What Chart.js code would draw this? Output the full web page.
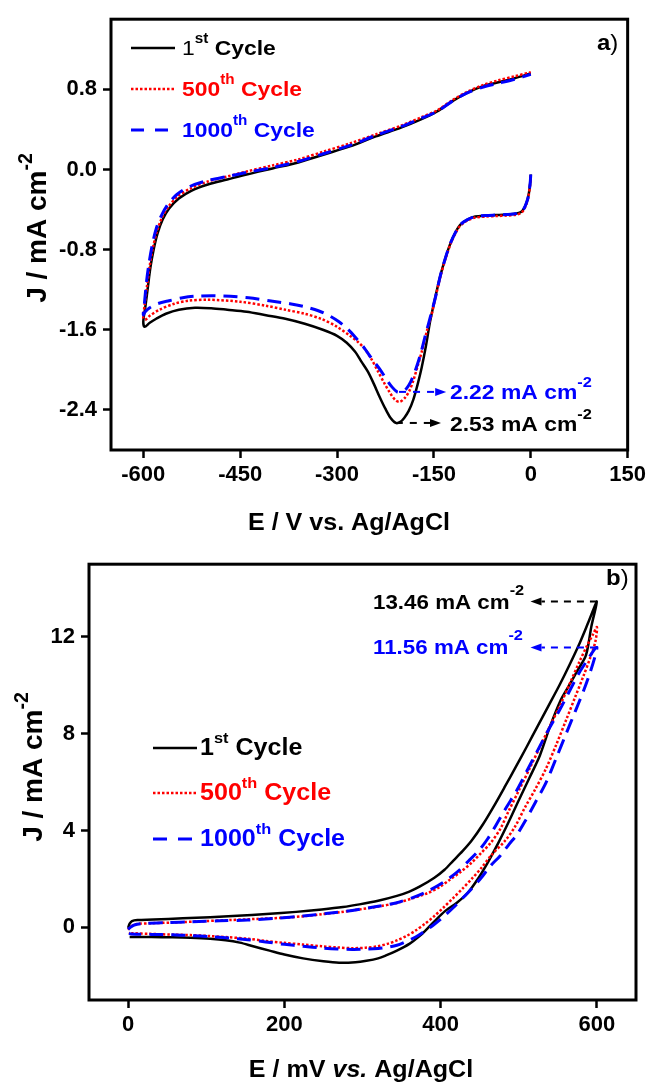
<!DOCTYPE html>
<html lang="en">
<head>
<meta charset="UTF-8">
<title>CV stability cycles</title>
<script src="https://cdn.jsdelivr.net/npm/chart.js"></script>
<style>
  html, body { margin: 0; padding: 0; background: #fff; }
  #chartA { position: absolute; left: 0; top: 0; }
  #chartB { position: absolute; left: 0; top: 545px; }
</style>
</head>
<body>
<canvas id="chartA" width="650" height="545"></canvas>
<canvas id="chartB" width="650" height="539"></canvas>
<script>
const FONT = '"Liberation Sans", Arial, Helvetica, sans-serif';
const SX = 1.09; // the original figure's lettering is slightly wide

// ---------- data, panel a (E / V vs. Ag/AgCl) ----------
const aXTicks = [-600, -450, -300, -150, 0, 150];
const aYTicks = [-2.4, -1.6, -0.8, 0.0, 0.8];

const a1st = [
  [0, -0.05], [-1, -0.14], [-3, -0.24], [-5, -0.30], [-9, -0.37], [-14, -0.42], [-22, -0.44],
  [-38, -0.45], [-54, -0.455], [-70, -0.46], [-86, -0.47], [-98, -0.50], [-109, -0.55],
  [-116, -0.62], [-124, -0.73], [-132, -0.88], [-140, -1.06], [-148, -1.28], [-156, -1.52],
  [-162, -1.75], [-169, -1.98], [-175, -2.14], [-182, -2.30], [-189, -2.41], [-196, -2.48],
  [-202, -2.52], [-209, -2.53], [-217, -2.48], [-225, -2.39], [-234, -2.27], [-243, -2.14],
  [-252, -2.02], [-262, -1.92], [-272, -1.82], [-285, -1.73], [-300, -1.66], [-322, -1.60],
  [-350, -1.54], [-380, -1.49], [-410, -1.455], [-440, -1.42], [-470, -1.40], [-495, -1.385],
  [-520, -1.38], [-545, -1.40], [-565, -1.44], [-580, -1.49], [-590, -1.53], [-598, -1.57],
  [-600, -1.52], [-597, -1.38], [-593, -1.18], [-589, -0.98], [-584, -0.80], [-578, -0.64],
  [-570, -0.50], [-560, -0.39], [-545, -0.29], [-525, -0.21], [-500, -0.15], [-470, -0.10],
  [-440, -0.05], [-400, 0.01], [-360, 0.07], [-320, 0.15], [-280, 0.23], [-240, 0.33],
  [-200, 0.42], [-170, 0.50], [-145, 0.58], [-122, 0.68], [-100, 0.76], [-75, 0.83],
  [-50, 0.87], [-25, 0.91], [0, 0.96]
];
const a500th = [
  [0, -0.06], [-1, -0.15], [-3, -0.25], [-5, -0.31], [-9, -0.38], [-14, -0.43], [-22, -0.45],
  [-38, -0.46], [-54, -0.465], [-70, -0.47], [-86, -0.48], [-98, -0.51], [-109, -0.56],
  [-116, -0.63], [-124, -0.74], [-132, -0.89], [-140, -1.07], [-148, -1.29], [-154, -1.46],
  [-160, -1.59], [-168, -1.80], [-176, -1.98], [-182, -2.11], [-188, -2.21], [-195, -2.28],
  [-203, -2.32], [-210, -2.30], [-218, -2.23], [-227, -2.13], [-237, -2.01], [-247, -1.89],
  [-257, -1.79], [-268, -1.72], [-280, -1.66], [-300, -1.57], [-325, -1.49], [-350, -1.44],
  [-380, -1.40], [-410, -1.36], [-450, -1.32], [-500, -1.30], [-530, -1.31], [-552, -1.34],
  [-575, -1.40], [-590, -1.46], [-597, -1.50],
  [-600, -1.48], [-598, -1.36], [-594, -1.15], [-590, -0.96], [-585, -0.78], [-579, -0.62],
  [-571, -0.48], [-561, -0.37], [-547, -0.27], [-527, -0.19], [-500, -0.12], [-470, -0.07],
  [-440, -0.02], [-400, 0.04], [-360, 0.10], [-320, 0.18], [-280, 0.26], [-240, 0.35],
  [-200, 0.44], [-170, 0.52], [-145, 0.59], [-122, 0.69], [-100, 0.77], [-75, 0.84],
  [-50, 0.89], [-25, 0.93], [0, 0.97]
];
const a1000th = [
  [0, -0.05], [-1, -0.14], [-3, -0.24], [-5, -0.30], [-9, -0.37], [-14, -0.42], [-22, -0.44],
  [-38, -0.45], [-54, -0.455], [-70, -0.46], [-86, -0.47], [-98, -0.50], [-109, -0.55],
  [-116, -0.62], [-124, -0.73], [-132, -0.88], [-140, -1.06], [-147, -1.26], [-155, -1.46],
  [-163, -1.65], [-171, -1.85], [-179, -2.01], [-186, -2.12], [-193, -2.19], [-200, -2.22],
  [-207, -2.22], [-215, -2.17], [-223, -2.10], [-233, -2.00], [-246, -1.89], [-258, -1.78],
  [-271, -1.68], [-284, -1.59], [-297, -1.52], [-312, -1.46], [-329, -1.41], [-350, -1.37],
  [-373, -1.34], [-405, -1.31], [-437, -1.28], [-488, -1.26], [-520, -1.265], [-539, -1.28],
  [-560, -1.31], [-578, -1.34], [-590, -1.38], [-597, -1.42],
  [-600, -1.45], [-598, -1.32], [-595, -1.12], [-591, -0.93], [-586, -0.75], [-580, -0.59],
  [-572, -0.46], [-562, -0.35], [-548, -0.25], [-528, -0.17], [-500, -0.11], [-470, -0.07],
  [-440, -0.03], [-400, 0.02], [-360, 0.08], [-320, 0.16], [-280, 0.24], [-240, 0.34],
  [-200, 0.43], [-170, 0.51], [-145, 0.58], [-122, 0.68], [-100, 0.76], [-75, 0.82],
  [-50, 0.86], [-25, 0.90], [0, 0.95]
];

// ---------- data, panel b (E / mV vs. Ag/AgCl) ----------
const bXTicks = [0, 200, 400, 600];
const bYTicks = [0, 4, 8, 12];

const b1st = [
  [0, -0.02], [2, 0.15], [5, 0.26], [12, 0.30], [33, 0.32], [70, 0.38], [105, 0.42], [140, 0.48],
  [177, 0.55], [215, 0.64], [248, 0.74], [275, 0.84], [296, 0.95], [320, 1.10], [344, 1.30],
  [360, 1.48], [373, 1.68], [392, 2.05], [405, 2.38], [416, 2.75], [428, 3.15], [440, 3.60],
  [454, 4.25], [468, 5.00], [482, 5.80], [496, 6.62], [510, 7.45], [524, 8.30], [538, 9.15],
  [552, 10.00], [565, 10.85], [578, 11.75], [589, 12.60], [600, 13.46],
  [593, 12.45], [586, 11.24], [575, 10.60], [564, 9.97], [553, 9.34], [540, 8.30], [527, 7.10],
  [514, 6.20], [500, 5.25], [487, 4.35], [474, 3.50], [461, 2.72], [448, 2.02], [434, 1.40],
  [420, 1.00], [406, 0.68], [392, 0.25], [383, -0.05], [373, -0.36], [360, -0.68], [344, -0.96],
  [330, -1.16], [320, -1.28], [305, -1.38], [291, -1.44], [270, -1.46], [250, -1.40],
  [224, -1.28], [200, -1.12], [181, -0.96], [160, -0.78], [143, -0.63], [125, -0.53],
  [105, -0.47], [80, -0.43], [57, -0.41], [30, -0.40], [2, -0.40]
];
const b500th = [
  [0, -0.10], [3, 0.02], [9, 0.13], [30, 0.17], [57, 0.20], [93, 0.25], [129, 0.30], [165, 0.35],
  [200, 0.40], [225, 0.46], [248, 0.54], [272, 0.63], [296, 0.74], [320, 0.86], [344, 1.01],
  [364, 1.20], [383, 1.41], [398, 1.65], [411, 1.95], [426, 2.30], [440, 2.68], [452, 3.08],
  [464, 3.49], [476, 4.05], [487, 4.80], [500, 5.65], [514, 6.57], [527, 7.45], [540, 8.32],
  [554, 9.25], [567, 10.20], [578, 11.00], [588, 11.68], [595, 12.10], [600, 12.40],
  [598, 11.80], [591, 11.10], [583, 10.40], [572, 9.50], [561, 8.60], [548, 7.55], [535, 6.57],
  [521, 5.70], [508, 4.96], [495, 4.15], [483, 3.60], [464, 2.95], [452, 2.45], [440, 2.01],
  [428, 1.60], [416, 1.21], [404, 0.83], [392, 0.47], [380, 0.15], [368, -0.13], [356, -0.36],
  [344, -0.54], [332, -0.68], [320, -0.78], [304, -0.84], [287, -0.86], [268, -0.83],
  [248, -0.78], [224, -0.71], [200, -0.64], [176, -0.56], [153, -0.47], [129, -0.41],
  [105, -0.36], [80, -0.32], [57, -0.30], [30, -0.27], [4, -0.24], [1, -0.22]
];
const b1000th = [
  [0, -0.08], [3, 0.00], [8, 0.10], [19, 0.16], [50, 0.20], [81, 0.23], [117, 0.27], [153, 0.30],
  [190, 0.38], [224, 0.47], [256, 0.58], [287, 0.70], [316, 0.85], [344, 1.02], [366, 1.25],
  [385, 1.52], [403, 1.85], [421, 2.28], [436, 2.75], [450, 3.22], [460, 3.65], [471, 4.23],
  [484, 4.95], [498, 5.69], [511, 6.50], [524, 7.30], [537, 8.10], [551, 8.90], [564, 9.70],
  [577, 10.50], [588, 11.05], [598, 11.53], [600, 11.56],
  [598, 11.24], [591, 10.50], [583, 9.78], [572, 8.90], [561, 8.03], [548, 7.00], [535, 5.99],
  [521, 5.15], [508, 4.38], [497, 3.80], [488, 3.45], [476, 2.95], [464, 2.55], [452, 2.05],
  [440, 1.61], [428, 1.20], [416, 0.81], [404, 0.45], [392, 0.13], [380, -0.15], [368, -0.40],
  [356, -0.58], [344, -0.74], [332, -0.82], [320, -0.87], [304, -0.90], [287, -0.91],
  [268, -0.89], [248, -0.85], [224, -0.78], [200, -0.70], [176, -0.60], [153, -0.51],
  [129, -0.44], [105, -0.38], [80, -0.34], [57, -0.31], [30, -0.29], [4, -0.27], [1, -0.25]
];

// labels
const cycleNum = ['1', '500', '1000'];
const cycleSup = ['st', 'th', 'th'];
const aPeakText = ['2.53', '2.22'];     // 1st, 1000th
const aPeakX = [-209, -204];
const aPeakY = [-2.53, -2.22];
const bPeakText = ['13.46', '11.56'];
const bPeakX = [600, 600];
const bPeakY = [13.46, 11.56];

// styles
const colors = ['#000000', '#ff0000', '#0000ff'];
const dashes = [[], [2.5, 2], [14, 8]];
const widths = [2.5, 2.5, 3];

function setFont(ctx, p) {
  ctx.font = (p.italic ? 'italic ' : '') + (p.weight || 'bold') + ' ' + p.size + 'px ' + FONT;
}
function richWidth(ctx, parts, sx) {
  let w = 0;
  for (const p of parts) { setFont(ctx, p); w += ctx.measureText(p.t).width; }
  return w * sx;
}
function drawRich(ctx, x, y, parts, color, sx) {
  sx = sx || SX;
  ctx.save();
  ctx.translate(x, y);
  ctx.scale(sx, 1);
  ctx.textBaseline = 'alphabetic';
  ctx.textAlign = 'left';
  let cx = 0;
  for (const p of parts) {
    setFont(ctx, p);
    ctx.fillStyle = p.color || color;
    ctx.fillText(p.t, cx, -(p.rise || 0));
    cx += ctx.measureText(p.t).width;
  }
  ctx.restore();
}
function arrow(ctx, x0, y, x1, color, dash) {
  const dir = Math.sign(x1 - x0), head = 11;
  ctx.save();
  ctx.strokeStyle = color; ctx.fillStyle = color; ctx.lineWidth = 2;
  ctx.setLineDash(dash);
  ctx.beginPath(); ctx.moveTo(x0, y); ctx.lineTo(x1 - dir * head, y); ctx.stroke();
  ctx.setLineDash([]);
  ctx.beginPath(); ctx.moveTo(x1, y); ctx.lineTo(x1 - dir * head, y - 4); ctx.lineTo(x1 - dir * head, y + 4);
  ctx.closePath(); ctx.fill();
  ctx.restore();
}
function legend(ctx, x0, x1, tx, rows, size, supSize, rise, firstWeight, legendDash) {
  for (let i = 0; i < 3; i++) {
    const y = rows[i];
    ctx.save();
    ctx.strokeStyle = colors[i]; ctx.lineWidth = widths[i];
    ctx.setLineDash(legendDash[i]);
    ctx.beginPath(); ctx.moveTo(x0, y); ctx.lineTo(x1, y); ctx.stroke();
    ctx.restore();
    drawRich(ctx, tx, y + 7, [
      { t: cycleNum[i], size: size, weight: i === 0 ? firstWeight : 'bold' },
      { t: cycleSup[i], size: supSize, rise: rise },
      { t: ' Cycle', size: size }
    ], colors[i]);
  }
}
function yTitle(ctx, cx, cy, size) {
  const parts = [{ t: 'J / mA cm', size: size }, { t: '-2', size: size * 0.7, rise: size * 0.5 }];
  const w = richWidth(ctx, parts, 1);
  ctx.save();
  ctx.translate(cx, cy);
  ctx.rotate(-Math.PI / 2);
  drawRich(ctx, -w / 2, 0, parts, '#000', 1);
  ctx.restore();
}

const framePlugin = {
  id: 'frame',
  afterDraw(chart) {
    const { ctx, chartArea: a } = chart;
    ctx.save();
    ctx.strokeStyle = '#000'; ctx.lineWidth = 3; ctx.setLineDash([]);
    ctx.strokeRect(a.left, a.top, a.right - a.left, a.bottom - a.top);
    ctx.restore();
  }
};

function axis(min, max, ticks, fmt, fit, pad) {
  return {
    type: 'linear', min: min, max: max,
    afterBuildTicks: s => { s.ticks = ticks.map(v => ({ value: v })); },
    afterFit: fit,
    grid: { drawOnChartArea: false, drawTicks: true, tickLength: 8, tickWidth: 2.5, tickColor: '#000' },
    border: { display: false },
    ticks: {
      color: '#000', padding: pad, maxRotation: 0, autoSkip: false,
      font: { family: FONT, size: 22, weight: 'bold' },
      callback: fmt
    }
  };
}

function makeChart(id, series, xr, yr, xTicks, yTicks, xFmt, yFmt, pad, xH, yW, deco) {
  return new Chart(document.getElementById(id), {
    type: 'scatter',
    data: {
      datasets: series.map((s, i) => ({
        data: s.map(p => ({ x: p[0], y: p[1] })),
        showLine: true, pointRadius: 0, fill: false, tension: 0.3,
        borderColor: colors[i], borderWidth: widths[i], borderDash: dashes[i],
        order: 2 - i
      }))
    },
    options: {
      responsive: false, animation: false, events: [],
      layout: { padding: pad },
      plugins: { legend: { display: false }, tooltip: { enabled: false } },
      scales: {
        x: axis(xr[0], xr[1], xTicks, xFmt, s => { s.height = xH; }, 4),
        y: axis(yr[0], yr[1], yTicks, yFmt, s => { s.width = yW; }, 6)
      }
    },
    plugins: [framePlugin, deco]
  });
}

// ---------- panel a ----------
const decoA = {
  id: 'decoA',
  afterDraw(chart) {
    const ctx = chart.ctx, xs = chart.scales.x, ys = chart.scales.y;
    legend(ctx, 131, 175, 182, [48, 89, 130], 21, 14, 12, 'normal', [[], [2.5, 2], [13, 11]]);
    // peak arrows
    const tips = [-139, -131];
    const annCol = ['#000000', '#0000ff'];
    const annBase = [431, 399];
    for (let i = 0; i < 2; i++) {
      const py = ys.getPixelForValue(aPeakY[i]);
      arrow(ctx, xs.getPixelForValue(aPeakX[i]), py, xs.getPixelForValue(tips[i]), annCol[i], [7, 7]);
      drawRich(ctx, 450, annBase[i], [
        { t: aPeakText[i] + ' mA cm', size: 21 },
        { t: '-2', size: 15, rise: 12 }
      ], annCol[i]);
    }
    drawRich(ctx, 597, 50, [{ t: 'a', size: 22 }, { t: ')', size: 22, weight: 'normal' }], '#000');
    yTitle(ctx, 46, 228, 28);
    const xt = [{ t: 'E / V vs. Ag/AgCl', size: 23 }];
    drawRich(ctx, 349 - richWidth(ctx, xt, SX) / 2, 530, xt, '#000');
  }
};

makeChart('chartA', [a1st, a500th, a1000th], [-650, 150], [-2.8, 1.5], aXTicks, aYTicks,
  v => String(v), v => v.toFixed(1), { top: 13, right: 21, left: 0, bottom: 0 }, 95, 111, decoA);

// ---------- panel b ----------
const decoB = {
  id: 'decoB',
  afterDraw(chart) {
    const ctx = chart.ctx, xs = chart.scales.x, ys = chart.scales.y;
    ctx.save();
    ctx.translate(0, -545);
    legend(ctx, 153, 197, 200, [748, 793, 839], 23, 15, 12, 'bold', [[], [2.5, 2], [14, 11]]);
    const annCol = ['#000000', '#0000ff'];
    const annBase = [609, 654];
    for (let i = 0; i < 2; i++) {
      drawRich(ctx, 373, annBase[i], [
        { t: bPeakText[i] + ' mA cm', size: 20.5 },
        { t: '-2', size: 15, rise: 14 }
      ], annCol[i]);
    }
    drawRich(ctx, 606, 585, [{ t: 'b', size: 22 }, { t: ')', size: 22, weight: 'normal' }], '#000');
    yTitle(ctx, 42, 767, 28);
    const xt = [{ t: 'E / mV ', size: 23 }, { t: 'vs.', size: 23, italic: true }, { t: ' Ag/AgCl', size: 23 }];
    drawRich(ctx, 361 - richWidth(ctx, xt, SX) / 2, 1077, xt, '#000');
    ctx.restore();
    for (let i = 0; i < 2; i++) {
      const py = ys.getPixelForValue(bPeakY[i]);
      arrow(ctx, xs.getPixelForValue(bPeakX[i]), py, xs.getPixelForValue(515), annCol[i], [7, 6]);
    }
  }
};

makeChart('chartB', [b1st, b500th, b1000th], [-50, 650], [-3, 15], bXTicks, bYTicks,
  v => String(v), v => String(v), { top: 12, right: 14, left: 0, bottom: 0 }, 84, 89, decoB);
</script>
</body>
</html>
